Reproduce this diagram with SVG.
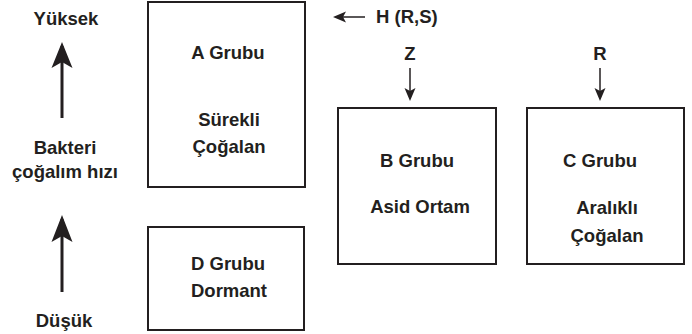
<svg xmlns="http://www.w3.org/2000/svg" width="692" height="334" viewBox="0 0 692 334">
<style>
text{font-family:"Liberation Sans",Arial,sans-serif;font-weight:bold;font-size:18.5px;fill:#231f20;text-anchor:middle}
.box{fill:#fff;stroke:#231f20;stroke-width:2}
.thin{stroke:#231f20;stroke-width:1.5;fill:none}
.thick{stroke:#231f20;stroke-width:3;fill:none}
</style>
<rect width="692" height="334" fill="#fff"/>
<g id="axis">
<text x="66" y="25">Yüksek</text>
<text x="65" y="154">Bakteri</text>
<text x="65" y="178">çoğalım hızı</text>
<text x="64" y="327">Düşük</text>
</g>
<g id="connectors">
<path class="thick" d="M62 118 V46" />
<path d="M62 42 L72.5 68 L62 62 L51.5 68 Z" fill="#231f20"/>
<path class="thick" d="M62 292 V219" />
<path d="M62 215 L72.5 242 L62 236 L51.5 242 Z" fill="#231f20"/>
<path class="thin" d="M365 17 H340"/>
<path d="M333 17 L346 11.5 L343 17 L346 22.5 Z" fill="#231f20"/>
<path class="thin" d="M410 68 V95"/>
<path d="M410 101 L404.5 88 L410 91 L415.5 88 Z" fill="#231f20"/>
<path class="thin" d="M600 68 V95"/>
<path d="M600 101 L594.5 88 L600 91 L605.5 88 Z" fill="#231f20"/>
</g>
<g id="nodeA">
<rect class="box" x="148" y="2" width="157" height="185"/>
<text x="228" y="59">A Grubu</text>
<text x="229" y="126">Sürekli</text>
<text x="229" y="153">Çoğalan</text>
</g>
<g id="nodeD">
<rect class="box" x="148" y="227" width="156" height="103"/>
<text x="228" y="270">D Grubu</text>
<text x="229" y="297">Dormant</text>
</g>
<g id="nodeH">
<text x="376" y="23" style="text-anchor:start">H (R,S)</text>
</g>
<g id="nodeZ"><text x="410" y="60">Z</text></g>
<g id="nodeR"><text x="600" y="60">R</text></g>
<g id="nodeB">
<rect class="box" x="338" y="108" width="158" height="156"/>
<text x="417" y="167">B Grubu</text>
<text x="420" y="213">Asid Ortam</text>
</g>
<g id="nodeC">
<rect class="box" x="527" y="108" width="157" height="156"/>
<text x="600" y="167">C Grubu</text>
<text x="607" y="214">Aralıklı</text>
<text x="607" y="242">Çoğalan</text>
</g>
</svg>
